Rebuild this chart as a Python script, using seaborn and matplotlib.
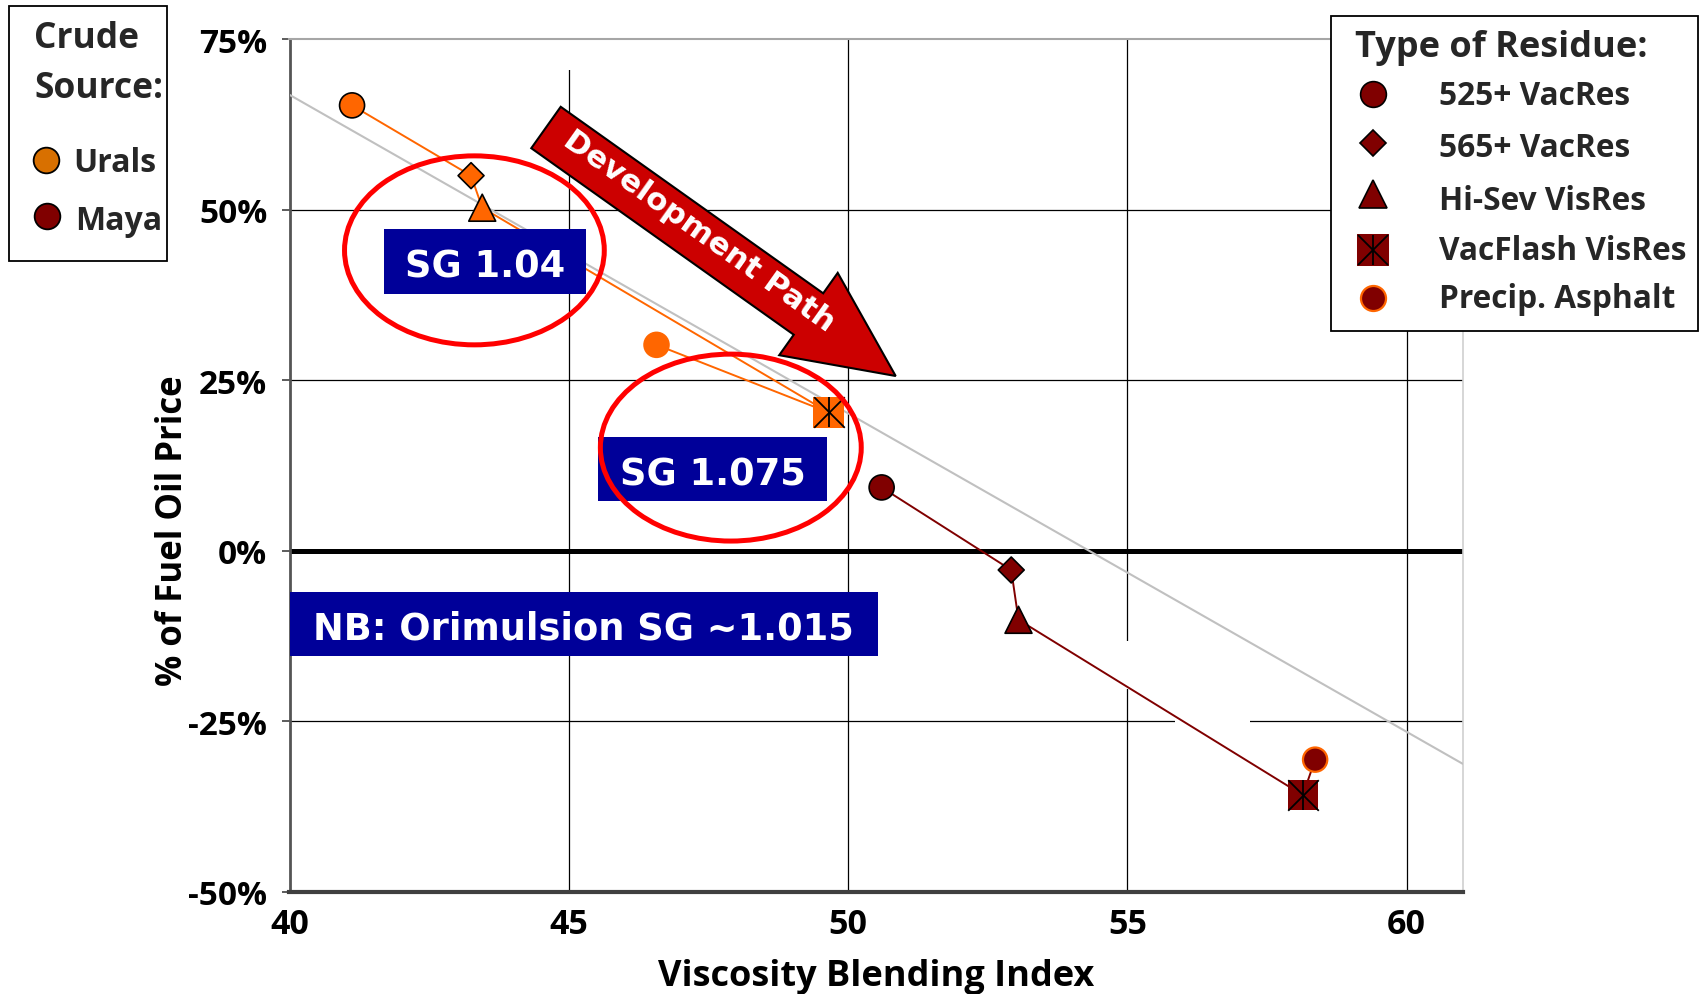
import numpy as np
import pandas as pd
import matplotlib
matplotlib.use("Agg")
import matplotlib.pyplot as plt
import seaborn as sns
from matplotlib.patches import Rectangle, Ellipse, Polygon
from matplotlib.lines import Line2D

# ---------------- data ----------------
residues = ["525+ VacRes", "565+ VacRes", "Hi-Sev VisRes", "VacFlash VisRes", "Precip. Asphalt"]
crudes = ["Urals", "Maya"]
urals_vbi = [41.12, 43.25, 43.45, 49.65, 46.57]
urals_pct = [65.3, 55.0, 50.3, 20.3, 30.2]
maya_vbi = [50.60, 52.92, 53.05, 58.14, 58.36]
maya_pct = [9.3, -2.8, -10.1, -35.8, -30.6]
trend_vbi = [40.0, 61.0]
trend_pct = [66.85, -31.2]
x_ticks = [40, 45, 50, 55, 60]
y_ticks = [-50, -25, 0, 25, 50, 75]
y_tick_labels = ["-50%", "-25%", "0%", "25%", "50%", "75%"]

df = pd.DataFrame({
    "crude": ["Urals"] * len(urals_vbi) + ["Maya"] * len(maya_vbi),
    "residue": residues + residues,
    "vbi": urals_vbi + maya_vbi,
    "pct": urals_pct + maya_pct,
})

# ---------------- style ----------------
W, H = 1700, 995
sns.set_theme(style="white")
plt.rcParams['font.family'] = ['Open Sans', 'DejaVu Sans']

ORANGE = "#FF6600"
DARKRED = "#800000"
BLUE = "#000099"
fill_pal = {"Urals": ORANGE, "Maya": DARKRED}

fig = plt.figure(figsize=(W / 100, H / 100), dpi=100)
ax = fig.add_axes([289.5 / W, 1 - 893 / H, (1462.6 - 289.5) / W, (893 - 40.2) / H])
ax.set_xlim(40, 61)
ax.set_ylim(-50, 75)


def px(x, y):
    return (x / W, 1 - y / H)


# gridlines
for v in [45, 50, 55, 60]:
    ax.axvline(v, color="black", lw=0.9, zorder=1)
for h in [50, 25, -25]:
    ax.axhline(h, color="black", lw=0.9, zorder=1)
# small gaps in the gridlines
ax.add_patch(Rectangle((54.9, -20.3), 0.2, 7.1, color="white", lw=0, zorder=1.5))
ax.add_patch(Rectangle((55.85, -25.6), 1.35, 1.2, color="white", lw=0, zorder=1.5))
ax.add_patch(Rectangle((44.9, 70.5), 0.2, 4.4, color="white", lw=0, zorder=1.5))
ax.axhline(0, color="black", lw=3.6, zorder=2)

# trend line
sns.lineplot(x=trend_vbi, y=trend_pct, color="#C0C0C0", lw=1.5, ax=ax, zorder=3)

# connecting lines per crude
sns.lineplot(data=df, x="vbi", y="pct", hue="crude", palette=fill_pal, sort=False,
             estimator=None, lw=1.4, legend=False, ax=ax, zorder=4)

# markers per residue type
marker_map = {"525+ VacRes": "o", "565+ VacRes": "D", "Hi-Sev VisRes": "^",
              "VacFlash VisRes": "s", "Precip. Asphalt": "o"}
size_map = {"525+ VacRes": 18, "565+ VacRes": 13.2, "Hi-Sev VisRes": 19.4,
            "VacFlash VisRes": 22, "Precip. Asphalt": 17.5}
edge_map = {"525+ VacRes": ("black", 1.2), "565+ VacRes": ("black", 1.2),
            "Hi-Sev VisRes": ("black", 1.2), "VacFlash VisRes": ("none", 0),
            "Precip. Asphalt": (ORANGE, 1.6)}
for r in residues:
    sub = df[df["residue"] == r]
    ec, lw = edge_map[r]
    sns.scatterplot(data=sub, x="vbi", y="pct", hue="crude", palette=fill_pal,
                    marker=marker_map[r], s=size_map[r] ** 2, edgecolor=ec,
                    linewidth=lw, legend=False, ax=ax, zorder=5)
sub = df[df["residue"] == "VacFlash VisRes"]
for m in ["x", "|"]:
    sns.scatterplot(data=sub, x="vbi", y="pct", marker=m, color="black",
                    s=22 ** 2, linewidth=1.3, legend=False, ax=ax, zorder=6)

# boxes with labels
boxes = [((41.69, 37.60), 45.30 - 41.69, 47.13 - 37.60, "SG 1.04", 40.28),
         ((45.53, 7.31), 49.63 - 45.53, 16.75 - 7.31, "SG 1.075", 9.76),
         ((40.0, -15.40), 50.54 - 40.0, 15.40 - 5.96, "NB: Orimulsion SG ~1.015", -12.85)]
for (x0, y0), w, hgt, txt, base in boxes:
    ax.add_patch(Rectangle((x0, y0), w, hgt, facecolor=BLUE, edgecolor="none", zorder=6.5))
    ax.text(x0 + w / 2, base, txt, color="white", fontsize=26.5, fontweight="bold",
            family="DejaVu Sans", ha="center", va="baseline", zorder=6.6)

# red ellipses
ax.add_patch(Ellipse((43.31, 44.05), 4.65, 27.7, fill=False, edgecolor="#FF0000", lw=3.6, zorder=7))
ax.add_patch(Ellipse((47.90, 15.14), 4.67, 27.4, fill=False, edgecolor="#FF0000", lw=3.6, zorder=7))

# development path arrow (in pixel geometry)
ang = np.deg2rad(35.4)
u = np.array([np.cos(ang), np.sin(ang)])
n = np.array([-np.sin(ang), np.cos(ang)])
T = np.array([546.0, 128.5])
hw, HW, L1, Lh = 25.4, 50.5, 322.0, 107.0
pts = [T + n * hw, T - n * hw, T - n * hw + u * L1, T - n * HW + u * L1,
       T + u * (L1 + Lh), T + n * HW + u * L1, T + n * hw + u * L1]
pts_fig = [px(p[0], p[1]) for p in pts]
arrow = Polygon(pts_fig, closed=True, facecolor="#CC0000", edgecolor="black", lw=1.5,
                transform=fig.transFigure, zorder=8, clip_on=False)
ax.add_patch(arrow)
tc = T + u * 184 + n * (-5)
ax.text(*px(tc[0], tc[1]), "Development Path", transform=fig.transFigure, rotation=-35.4,
        rotation_mode="anchor", ha="center", va="center", color="white", fontsize=22.5,
        fontweight="bold", family="DejaVu Sans", zorder=9)

# axes styling
ax.set_xticks(x_ticks)
ax.set_yticks(y_ticks)
ax.set_yticklabels(y_tick_labels)
ax.tick_params(axis="y", left=True, direction="out", length=6, width=1.2, color="#404040",
               pad=10, labelsize=24, labelcolor="black")
ax.tick_params(axis="x", bottom=False, length=0, pad=11, labelsize=24.5, labelcolor="black")
for lab in ax.get_xticklabels() + ax.get_yticklabels():
    lab.set_fontweight("bold")
ax.spines["top"].set_color("#A6A6A6")
ax.spines["top"].set_linewidth(1.5)
ax.spines["right"].set_color("#D0D0D0")
ax.spines["right"].set_linewidth(1.2)
ax.spines["left"].set_color("#555555")
ax.spines["left"].set_linewidth(2)
ax.spines["bottom"].set_color("#404040")
ax.spines["bottom"].set_linewidth(3)
ax.set_xlabel("Viscosity Blending Index", fontsize=26, fontweight="bold", color="black")
ax.set_ylabel("% of Fuel Oil Price", fontsize=25, fontweight="bold", color="black")
ax.xaxis.set_label_coords(0.5, -0.0775)
ax.yaxis.set_label_coords(-0.084, 0.425)

# ---------------- legends (drawn manually) ----------------
# left: crude source
fig.add_artist(Rectangle(px(9, 262), 158 / W, 255 / H, transform=fig.transFigure,
                         facecolor="white", edgecolor="black", lw=1.3, zorder=10))
fig.text(*px(34, 48), "Crude", fontsize=25.5, fontweight="bold", ha="left", va="baseline", zorder=11)
fig.text(*px(34, 98), "Source:", fontsize=25.5, fontweight="bold", ha="left", va="baseline", zorder=11)
leg_crude_colors = {"Urals": "#D87000", "Maya": DARKRED}
for (cx, cy, tx, tb), c in zip([(46, 161, 73, 172.5), (47, 217, 75, 230)], crudes):
    fig.add_artist(Line2D([cx / W], [1 - cy / H], marker="o", markersize=18.5,
                          markerfacecolor=leg_crude_colors[c], markeredgecolor="black",
                          markeredgewidth=1.3, transform=fig.transFigure, zorder=11))
    fig.text(*px(tx, tb), c, fontsize=23, fontweight="bold", ha="left", va="baseline", zorder=11)

# right: type of residue
fig.add_artist(Rectangle(px(1331, 332), 367 / W, 315 / H, transform=fig.transFigure,
                         facecolor="white", edgecolor="black", lw=1.3, zorder=10))
fig.text(*px(1355, 57), "Type of Residue:", fontsize=26, fontweight="bold", ha="left",
         va="baseline", zorder=11)
leg_rows = [(95, 105), (144, 156.7), (195, 210), (251, 260), (299, 308.3)]
for r, (my, tb) in zip(residues, leg_rows):
    ec, lw = edge_map[r]
    fig.add_artist(Line2D([1372.5 / W], [1 - my / H], marker=marker_map[r],
                          markersize=size_map[r] * 1.03, markerfacecolor=DARKRED,
                          markeredgecolor=ec if ec != "none" else DARKRED,
                          markeredgewidth=max(lw, 0.01), transform=fig.transFigure, zorder=11))
    if r == "VacFlash VisRes":
        for m in ["x", "|"]:
            fig.add_artist(Line2D([1372.5 / W], [1 - my / H], marker=m, markersize=22,
                                  markeredgecolor="black", markeredgewidth=1.3,
                                  transform=fig.transFigure, zorder=12))
    fig.text(*px(1439, tb), r, fontsize=22.8, fontweight="bold", ha="left", va="baseline", zorder=11)

fig.savefig("out.png", dpi=100)
